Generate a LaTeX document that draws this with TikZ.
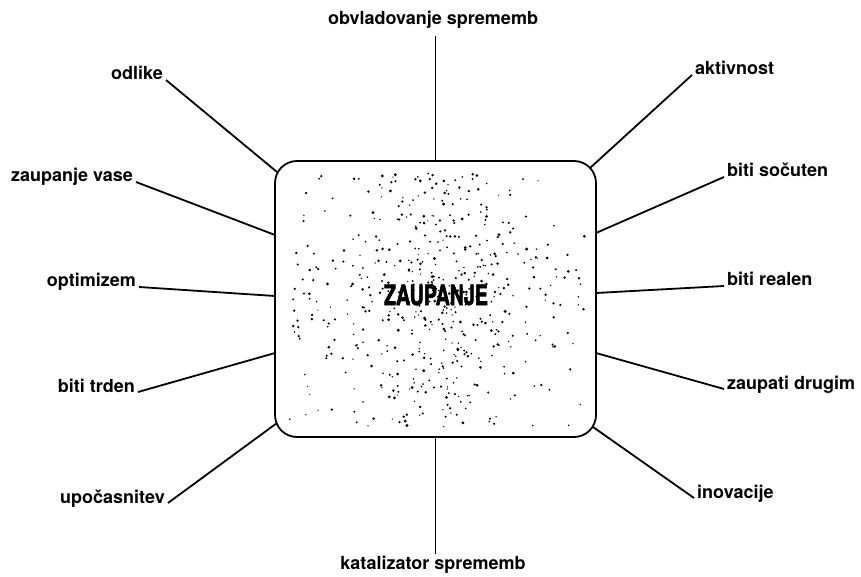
\documentclass[tikz,border=0pt]{standalone}
\usepackage{fontspec}
\setmainfont{TeX Gyre Heros}
\newfontfamily\heavyfont{TeX Gyre Heros}[BoldFeatures={FakeBold=2.5}]
\usepackage{graphicx}
\usetikzlibrary{positioning,calc}

\tikzset{
  lbl/.style={font=\fontsize{18}{20}\selectfont\bfseries,inner sep=3pt},
  spoke/.style={line width=1.8pt},
  speck/.style={fill=black},
}

\begin{document}
\begin{tikzpicture}[x=1pt,y=1pt]
  \useasboundingbox (0,0) rectangle (861,576);
  \node[draw,line width=1.8pt,rounded corners=22pt,minimum width=321pt,minimum height=276pt] (box) at (435.5,277) {};
  % specks inside the box
  \pgfmathsetseed{11}
  \foreach \i in {1,...,300}{
    \pgfmathsetmacro\dx{50*(rand+rand)}
    \pgfmathsetmacro\dy{128*rand}
    \pgfmathsetmacro\dr{0.7+0.9*rnd}
    \fill[speck] ([shift={(\dx,\dy)}]box.center) circle (\dr pt);
  }
  \foreach \i in {1,...,160}{
    \pgfmathsetmacro\dx{150*rand}
    \pgfmathsetmacro\dy{38*(rand+rand)}
    \pgfmathsetmacro\dr{0.7+0.8*rnd}
    \fill[speck] ([shift={(\dx,\dy)}]box.center) circle (\dr pt);
  }
  \foreach \i in {1,...,90}{
    \pgfmathsetmacro\dx{150*rand}
    \pgfmathsetmacro\dy{128*rand}
    \pgfmathsetmacro\dr{0.6+0.7*rnd}
    \fill[speck] ([shift={(\dx,\dy)}]box.center) circle (\dr pt);
  }
  \node[font=\fontsize{28}{28}\selectfont\heavyfont\bfseries,inner sep=0pt] (ctr) at (436,281) {\scalebox{0.7}[1]{ZAUPANJE}};
  % top and bottom
  \node[lbl,anchor=base] (obv) at (433,551) {obvladovanje sprememb};
  \node[lbl,anchor=base] (kat) at (433,7) {katalizator sprememb};
  \draw[spoke] ([yshift=-4pt]obv.south -| box.north) -- (box.north);
  \draw[spoke] (box.south) -- ([yshift=-2pt]kat.north -| box.south);
  % left side
  \foreach \n/\t/\x/\y/\ex/\ey in {odl/odlike/166/496/277/404,
      vas/zaupanje vase/136/394/275/341,
      opt/optimizem/139/289/275/280,
      trd/biti trden/138/184/275/223,
      upo/upočasnitev/168/73/277/153}{
    \node[lbl,anchor=base east] (\n) at (\x,\y) {\t};
    \coordinate (\n-e) at (\ex,\ey);
    \draw[spoke] (\n.base east) -- (\n-e);
  }
  % right side
  \foreach \n/\t/\x/\y/\ex/\ey in {akt/aktivnost/692/501/590/408,
      soc/biti sočuten/724/399/596/343,
      rea/biti realen/724/290/596/283,
      dru/zaupati drugim/724/187/596/223,
      ino/inovacije/694/78/593/149}{
    \node[lbl,anchor=base west] (\n) at (\x,\y) {\t};
    \coordinate (\n-e) at (\ex,\ey);
    \draw[spoke] (\n.base west) -- (\n-e);
  }
\end{tikzpicture}
\end{document}
